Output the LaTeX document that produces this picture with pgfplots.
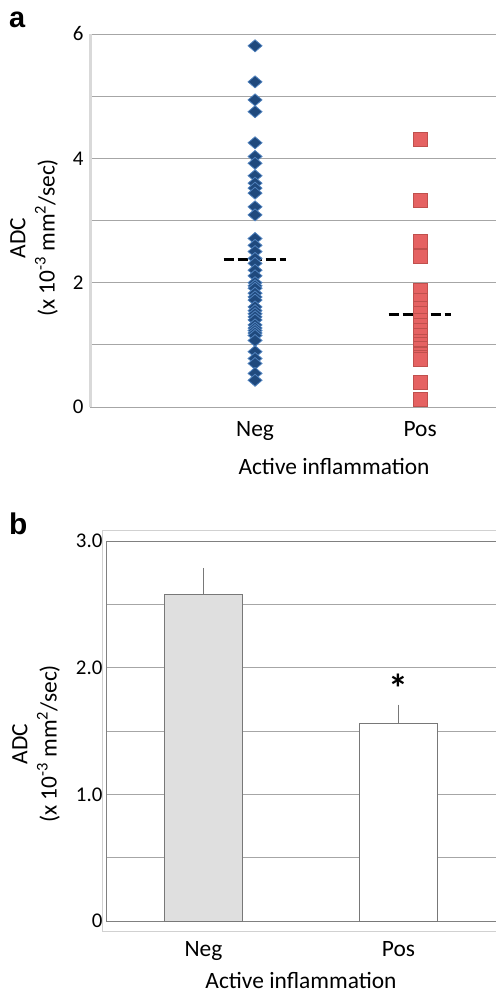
\documentclass[border=0pt]{standalone}
\usepackage{fontspec}
\setmainfont{Carlito}
\newfontfamily\arialfont{Liberation Sans}
\usepackage{pgfplots}
\pgfplotsset{compat=1.18}
\definecolor{gridgray}{RGB}{166,166,166}
\definecolor{navyfill}{RGB}{31,73,125}
\definecolor{navyedge}{RGB}{79,129,189}
\definecolor{redfill}{RGB}{229,98,98}
\definecolor{rededge}{RGB}{192,80,77}
\definecolor{barfill}{RGB}{223,223,223}
\definecolor{baredge}{RGB}{120,120,120}

\begin{document}
\begin{tikzpicture}[x=1bp, y=1bp]
  \path[use as bounding box] (0,0) rectangle (496,992);
  \coordinate (pa) at (90,585);
  \coordinate (pb) at (106,71);

  % panel a: individual ADC values
  \begin{axis}[
      at={(pa)}, anchor=south west,
      scale only axis, width=406bp, height=373bp,
      xmin=0, xmax=2.46, ymin=0, ymax=6,
      axis lines*=left,
      x axis line style={draw=gridgray, line width=0.8bp},
      y axis line style={draw=black!15, line width=3bp},
      major tick length=0,
      xtick={1,2}, xticklabels={Neg,Pos},
      ytick={0,1,2,3,4,5,6}, yticklabels={0,,2,,4,,6},
      ymajorgrids, major grid style={gridgray, line width=0.8bp},
      /pgf/number format/assume math mode=true,
      tick label style={font=\fontsize{21}{21}\selectfont},
      xticklabel style={font=\fontsize{23.5}{23.5}\selectfont, anchor=base, yshift=-30bp},
      yticklabel style={xshift=-3bp},
      xlabel={Active inflammation},
      xlabel style={font=\fontsize{23.5}{23.5}\selectfont, at={(axis description cs:0.601,0)}, anchor=base, yshift=-68bp},
      clip=false,
    ]
    \addplot[only marks, mark=diamond*, mark size=6bp,
      mark options={fill=navyfill, draw=navyedge, line width=0.8bp, xscale=1.55}]
      coordinates {
      (1,5.81) (1,5.23) (1,4.94) (1,4.75) (1,4.25) (1,4.03) (1,3.92)
      (1,3.72) (1,3.60) (1,3.52) (1,3.44) (1,3.22) (1,3.09) (1,2.71)
      (1,2.60) (1,2.50) (1,2.39) (1,2.31) (1,2.20) (1,2.11) (1,2.00)
      (1,1.95) (1,1.91) (1,1.83) (1,1.77) (1,1.72) (1,1.61) (1,1.55)
      (1,1.50) (1,1.45) (1,1.40) (1,1.32) (1,1.27) (1,1.23) (1,1.19)
      (1,1.15) (1,1.07) (1,0.89) (1,0.78) (1,0.70) (1,0.54) (1,0.43)
      };
    \addplot[only marks, mark=square*, mark size=7bp,
      mark options={fill=redfill, draw=rededge, line width=0.8bp}]
      coordinates {
      (2,4.31) (2,3.33) (2,2.67) (2,2.43) (2,1.87) (2,1.72) (2,1.58)
      (2,1.50) (2,1.40) (2,1.32) (2,1.23) (2,1.15) (2,1.05) (2,1.00)
      (2,0.95) (2,0.86) (2,0.85) (2,0.80) (2,0.76) (2,0.40) (2,0.13)
      };
    % group means
    \addplot[black, line width=3bp, dash pattern=on 10bp off 4bp] coordinates {(0.81,2.38) (1.19,2.38)};
    \addplot[black, line width=3bp, dash pattern=on 10bp off 4bp] coordinates {(1.81,1.49) (2.19,1.49)};
  \end{axis}

  % panel b: mean ADC with error bars
  \draw[black!18, line width=1.5bp] (102.7,60.3) rectangle (520,461.3);
  \begin{axis}[
      at={(pb)}, anchor=south west,
      scale only axis, width=390bp, height=380bp,
      xmin=-0.5, xmax=1.5, ymin=0, ymax=3,
      x axis line style={draw=black!75, line width=1bp},
      y axis line style={draw=black!50, line width=0.8bp},
      major tick length=0,
      xtick={0,1}, xticklabels={Neg,Pos},
      ytick={0,0.5,1,1.5,2,2.5,3}, yticklabels={0,,1.0,,2.0,,3.0},
      ymajorgrids, major grid style={gridgray, line width=0.8bp},
      /pgf/number format/assume math mode=true,
      tick label style={font=\fontsize{21}{21}\selectfont},
      xticklabel style={font=\fontsize{23.5}{23.5}\selectfont, anchor=base, yshift=-35bp},
      xlabel={Active inflammation},
      xlabel style={font=\fontsize{23.5}{23.5}\selectfont, at={(axis description cs:0.5,0)}, anchor=base, yshift=-67bp},
      clip=false,
    ]
    \addplot[ybar, bar width=78bp, bar shift=0pt, fill=barfill, draw=baredge, line width=0.8bp,
      error bars/.cd, y dir=plus, y explicit,
      error bar style={baredge, line width=0.8bp}, error mark options={mark size=1bp}]
      coordinates {(0,2.58) +- (0,0.20)};
    \addplot[ybar, bar width=78bp, bar shift=0pt, fill=white, draw=baredge, line width=0.8bp,
      error bars/.cd, y dir=plus, y explicit,
      error bar style={baredge, line width=0.8bp}, error mark options={mark size=1bp}]
      coordinates {(1,1.56) +- (0,0.14)};
    \node[font=\fontsize{40}{40}\selectfont\bfseries] at (axis cs:1,1.84) {*};
  \end{axis}

  % y axis titles and panel letters
  \node[rotate=90, align=center, font=\fontsize{23.5}{29.5}\selectfont] at (34,754)
    {ADC\\(x 10\textsuperscript{-3} mm\textsuperscript{2}/sec)};
  \node[rotate=90, align=center, font=\fontsize{23.5}{29.5}\selectfont] at (36,248)
    {ADC\\(x 10\textsuperscript{-3} mm\textsuperscript{2}/sec)};
  \node[anchor=base west, inner sep=0pt, font=\fontsize{29}{29}\selectfont\arialfont\bfseries] at (9,964) {a};
  \node[anchor=base west, inner sep=0pt, font=\fontsize{30}{30}\selectfont\arialfont\bfseries] at (9,457) {b};
\end{tikzpicture}
\end{document}
